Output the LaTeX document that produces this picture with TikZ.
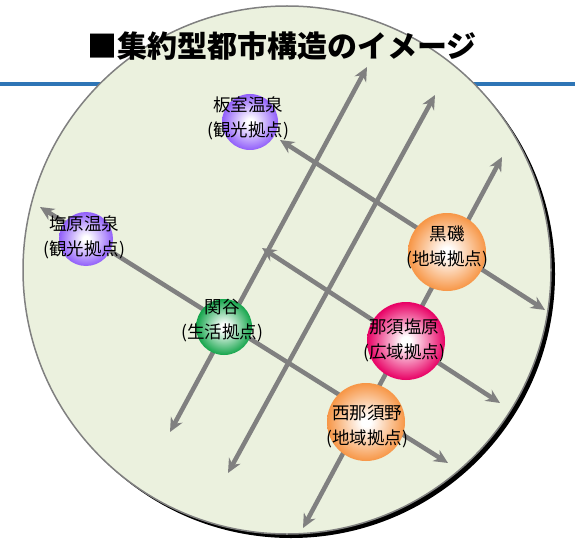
\documentclass[tikz,border=0pt]{standalone}
\usepackage{fontspec}
\newfontfamily\cjk{Noto Sans CJK JP}
\usetikzlibrary{arrows.meta}
\definecolor{bgc}{HTML}{EBF1DE}
\definecolor{bluel}{HTML}{2E75B6}
\definecolor{arrgray}{HTML}{808080}
\definecolor{purp}{RGB}{145,95,250}
\definecolor{grn}{RGB}{20,165,75}
\definecolor{orng}{HTML}{F79646}
\definecolor{pnk}{RGB}{232,0,100}
\colorlet{nodecol}{white}
\pgfdeclareradialshading[nodecol]{glow}{\pgfpoint{0bp}{0bp}}{color(0bp)=(white); color(3bp)=(white); color(25bp)=(nodecol); color(50bp)=(nodecol)}
\tikzset{
  arr/.style={draw=arrgray, line width=4.5pt,
    {Stealth[length=14pt,width=13pt]}-{Stealth[length=14pt,width=13pt]}},
  hub/.style={circle, draw=none, shading=glow, minimum size=#1, inner sep=0pt},
  lbl/.style={font=\cjk\fontsize{17.5}{25}\selectfont, align=center, inner sep=0pt, text=black},
}
\begin{document}
\begin{tikzpicture}[x=1pt,y=-1pt]
\useasboundingbox (0,0) rectangle (575,540);
% blue rule behind the circle
\draw[bluel, line width=3.5pt] (0,84) -- (575,84);
% big circle with shadow
\fill[black] (291,274) circle[radius=264pt];
\filldraw[fill=bgc, draw=arrgray, line width=1.5pt] (287,270) circle[radius=264pt];
% arrow end points
\coordinate (a1s) at (170,432); \coordinate (a1e) at (367,67);
\coordinate (a2s) at (228,473); \coordinate (a2e) at (435,95);
\coordinate (a3s) at (303,528); \coordinate (a3e) at (502,157);
\coordinate (bAs) at (280,140); \coordinate (bAe) at (545,310);
\coordinate (bBs) at (262,248); \coordinate (bBe) at (500,403);
\coordinate (bCs) at (40,207);  \coordinate (bCe) at (448,463);
\draw[arr] (a1s) -- (a1e);
\draw[arr] (a2s) -- (a2e);
\draw[arr] (a3s) -- (a3e);
\draw[arr] (bAs) -- (bAe);
\draw[arr] (bBs) -- (bBe);
\draw[arr] (bCs) -- (bCe);
% hubs
\colorlet{nodecol}{purp}
\node[hub=56pt] (itamuro) at (250,122) {};
\node[hub=54pt] (shiobara) at (86,239) {};
\colorlet{nodecol}{grn}
\node[hub=56pt] (sekiya) at (224,327) {};
\colorlet{nodecol}{orng}
\node[hub=78pt] (kuroiso) at (447,252) {};
\node[hub=78pt] (nishinasuno) at (366,422) {};
\colorlet{nodecol}{pnk}
\node[hub=78pt] (nasushiobara) at (406,341) {};
% labels
\node[lbl] (itamuroT) at (248,118) {板室温泉\\(観光拠点)};
\node[lbl] (shiobaraT) at (84,237) {塩原温泉\\(観光拠点)};
\node[lbl] (sekiyaT) at (222,321) {関谷\\(生活拠点)};
\node[lbl] (kuroisoT) at (447,247) {黒磯\\(地域拠点)};
\node[lbl] (nasushiobaraT) at (404,340) {那須塩原\\(広域拠点)};
\node[lbl] (nishinasunoT) at (367,427) {西那須野\\(地域拠点)};
% title
\node[font=\cjk\bfseries\fontsize{30}{30}\selectfont, inner sep=0pt] (title) at (282,46) {■集約型都市構造のイメージ};
\end{tikzpicture}
\end{document}
